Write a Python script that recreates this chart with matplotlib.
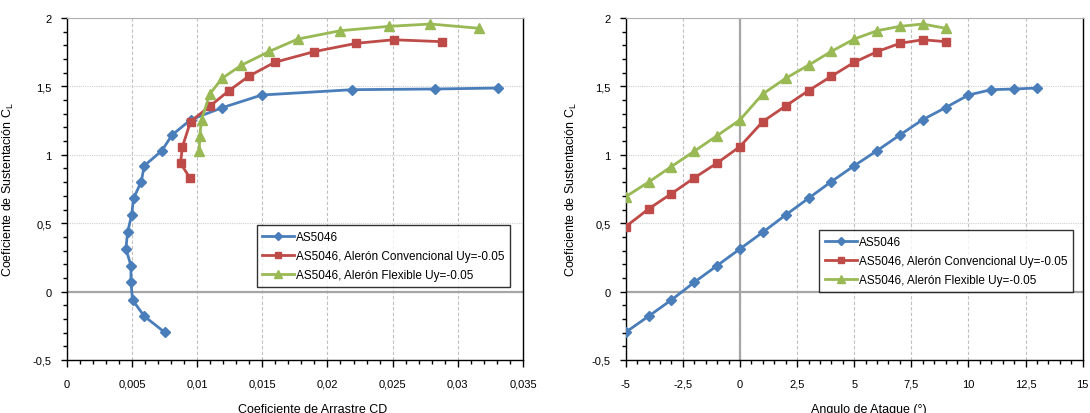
import matplotlib
matplotlib.use("Agg")
import matplotlib.pyplot as plt
from matplotlib.ticker import MultipleLocator, FuncFormatter

plt.rcParams['font.family'] = ['Liberation Sans', 'DejaVu Sans']

# ---- data ----
alpha_base = [-5, -4, -3, -2, -1, 0, 1, 2, 3, 4, 5, 6, 7, 8, 9, 10, 11, 12, 13]
cl_base = [-0.297, -0.18, -0.061, 0.068, 0.19, 0.312, 0.434, 0.56, 0.682, 0.804,
           0.92, 1.03, 1.145, 1.257, 1.345, 1.437, 1.476, 1.481, 1.488]
cd_base = [0.00751, 0.00595, 0.00505, 0.00493, 0.00493, 0.00454, 0.00467, 0.00498,
           0.00513, 0.00572, 0.00595, 0.00730, 0.00808, 0.00952, 0.01195, 0.01496,
           0.0219, 0.02823, 0.03309]

alpha_conv = [-5, -4, -3, -2, -1, 0, 1, 2, 3, 4, 5, 6, 7, 8, 9]
cl_conv = [0.475, 0.604, 0.716, 0.831, 0.94, 1.06, 1.243, 1.357, 1.469, 1.574,
           1.676, 1.754, 1.815, 1.841, 1.827]
cl_conv_polar = [0.831, 0.94, 1.06, 1.243, 1.357, 1.469, 1.574, 1.676, 1.754,
                 1.815, 1.841, 1.827]
cd_conv_polar = [0.00944, 0.00873, 0.00888, 0.00950, 0.01100, 0.01245, 0.01396,
                 0.01595, 0.01897, 0.02221, 0.02507, 0.02877]

alpha_flex = [-5, -4, -3, -2, -1, 0, 1, 2, 3, 4, 5, 6, 7, 8, 9]
cl_flex = [0.694, 0.80, 0.914, 1.026, 1.14, 1.255, 1.445, 1.559, 1.655, 1.756,
           1.846, 1.907, 1.939, 1.956, 1.925]
cl_flex_polar = [1.026, 1.14, 1.255, 1.445, 1.559, 1.655, 1.756, 1.846, 1.907,
                 1.939, 1.956, 1.925]
cd_flex_polar = [0.01016, 0.01021, 0.01034, 0.01098, 0.01192, 0.01340, 0.01555,
                 0.01772, 0.02098, 0.02471, 0.02790, 0.03160]

labels = ["AS5046", "AS5046, Alerón Convencional Uy=-0.05",
          "AS5046, Alerón Flexible Uy=-0.05"]
colors = ["#4a7ebb", "#be4b48", "#98b954"]
markers = ["D", "s", "^"]
msizes = [5, 6.2, 7]

W, H = 1090, 414
fig = plt.figure(figsize=(W / 100, H / 100), dpi=100)

def ax_rect(x0, x1, y0, y1):
    return [x0 / W, 1 - y1 / H, (x1 - x0) / W, (y1 - y0) / H]

axL = fig.add_axes(ax_rect(66.7, 523, 19, 361))
axR = fig.add_axes(ax_rect(625.7, 1082.7, 19, 361))

def fmt(v, pos):
    s = "%g" % round(v, 6)
    if s == "-0":
        s = "0"
    return s.replace(".", ",")

def style(ax, xmin, xmax, xmaj, xmin_step):
    ax.set_xlim(xmin, xmax)
    ax.set_ylim(-0.5, 2)
    ax.xaxis.set_major_locator(MultipleLocator(xmaj))
    ax.xaxis.set_minor_locator(MultipleLocator(xmin_step))
    ax.yaxis.set_major_locator(MultipleLocator(0.5))
    ax.yaxis.set_minor_locator(MultipleLocator(0.1))
    ax.xaxis.set_major_formatter(FuncFormatter(fmt))
    ax.yaxis.set_major_formatter(FuncFormatter(fmt))
    ax.tick_params(axis='x', which='major', length=5, width=1, pad=8.5, labelsize=8)
    ax.tick_params(axis='x', which='minor', length=3, width=1)
    ax.tick_params(axis='y', which='major', length=4, width=1, pad=7, labelsize=8)
    ax.tick_params(axis='y', which='minor', length=3, width=1)
    for s in ['left', 'bottom', 'right']:
        ax.spines[s].set_color('black')
        ax.spines[s].set_linewidth(1)
    ax.spines['top'].set_color('#b0b0b0')
    ax.grid(True, axis='x', which='major', color='#c0c0c0', linestyle=(0, (3, 2)), linewidth=0.8)
    ax.grid(True, axis='y', which='major', color='#d0d0d0', linestyle=(0, (1, 1)), linewidth=0.8)
    ax.set_axisbelow(True)
    ax.axhline(0, color='#a6a6a6', linewidth=1.6, zorder=1)

style(axL, 0, 0.035, 0.005, 0.001)
style(axR, -5, 15, 2.5, 0.5)
axR.axvline(0, color='#a6a6a6', linewidth=1.6, zorder=1)

polar = [(cd_base, cl_base), (cd_conv_polar, cl_conv_polar), (cd_flex_polar, cl_flex_polar)]
lift = [(alpha_base, cl_base), (alpha_conv, cl_conv), (alpha_flex, cl_flex)]

for ax, data in [(axL, polar), (axR, lift)]:
    for (xs, ys), c, m, ms, lab in zip(data, colors, markers, msizes, labels):
        ax.plot(xs, ys, color=c, linewidth=2, marker=m, markersize=ms,
                markerfacecolor=c, markeredgecolor=c, label=lab, zorder=3)

axL.set_xlabel("Coeficiente de Arrastre CD", fontsize=9)
axL.xaxis.set_label_coords(0.538, -0.125)
axR.set_xlabel("Angulo de Ataque (°)", fontsize=9)
axR.xaxis.set_label_coords(0.532, -0.125)
axL.set_ylabel("Coeficiente de Sustentación C$_\\mathregular{L}$", fontsize=9)
axL.yaxis.set_label_coords(-0.112, 0.5)
axR.set_ylabel("Coeficiente de Sustentación C$_\\mathregular{L}$", fontsize=9)
axR.yaxis.set_label_coords(-0.103, 0.5)

for ax, anchor in [(axL, (0.416, 0.395)), (axR, (0.423, 0.38))]:
    leg = ax.legend(loc='upper left', bbox_to_anchor=anchor, borderaxespad=0,
                    fontsize=8.5, frameon=True, fancybox=False, handlelength=2.7,
                    labelspacing=0.6, borderpad=0.5, handletextpad=0.15,
                    markerscale=0.8)
    leg.get_frame().set_edgecolor('black')
    leg.get_frame().set_linewidth(1)

fig.savefig("out.png", dpi=100)
